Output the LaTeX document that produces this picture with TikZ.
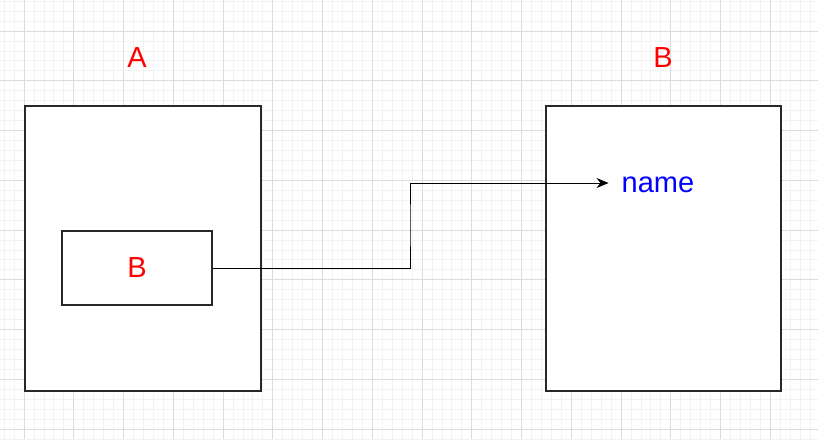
\documentclass[tikz,border=0pt]{standalone}
\usepackage{fontspec}
\setmainfont{Liberation Sans}
\usetikzlibrary{arrows.meta}

\definecolor{minorline}{RGB}{242,242,242}
\definecolor{majorline}{RGB}{220,220,220}
\definecolor{boxline}{RGB}{40,40,40}

\tikzset{
  blockbox/.style={draw=boxline,line width=1.3pt,fill=white,inner sep=0pt},
  redlabel/.style={text=red,font=\fontsize{29}{33}\selectfont,inner sep=0pt},
  bluelabel/.style={text=blue,font=\fontsize{29}{33}\selectfont,inner sep=0pt},
}

\begin{document}
\begin{tikzpicture}[x=1pt,y=-1pt]
\useasboundingbox (0,0) rectangle (818,439);
\fill[white] (0,0) rectangle (818,439);
% background grid
\foreach \i in {-2,...,80}{
  \draw[minorline,line width=0.8pt] ({24+9.95*\i},0) -- ({24+9.95*\i},439);
}
\foreach \j in {-3,...,42}{
  \draw[minorline,line width=0.8pt] (0,{31+9.95*\j}) -- (818,{31+9.95*\j});
}
\foreach \i in {0,...,16}{
  \draw[majorline,line width=0.8pt] ({24+49.75*\i},0) -- ({24+49.75*\i},439);
}
\foreach \j in {0,...,8}{
  \draw[majorline,line width=0.8pt] (0,{31+49.75*\j}) -- (818,{31+49.75*\j});
}

% left block
\node[blockbox,minimum width=236pt,minimum height=285pt] (boxA) at (143,248.5) {};
\node[redlabel] (titleA) at (137,58) {A};
\node[blockbox,minimum width=150pt,minimum height=74pt] (innerB) at (137,268) {};
\node[redlabel] (refB) at (137,268) {B};

% right block
\node[blockbox,minimum width=235pt,minimum height=285pt] (boxB) at (663.5,248.5) {};
\node[redlabel] (titleB) at (663,58) {B};
\node[bluelabel] (field) at (658,184.5) {name};

% link
\coordinate (bend) at (410,225);
\draw[-{Stealth[length=12pt,width=10pt]},line width=0.9pt] (innerB.east) -| (bend) |- ([xshift=-13pt,yshift=1.5pt]field.west);
\end{tikzpicture}
\end{document}
